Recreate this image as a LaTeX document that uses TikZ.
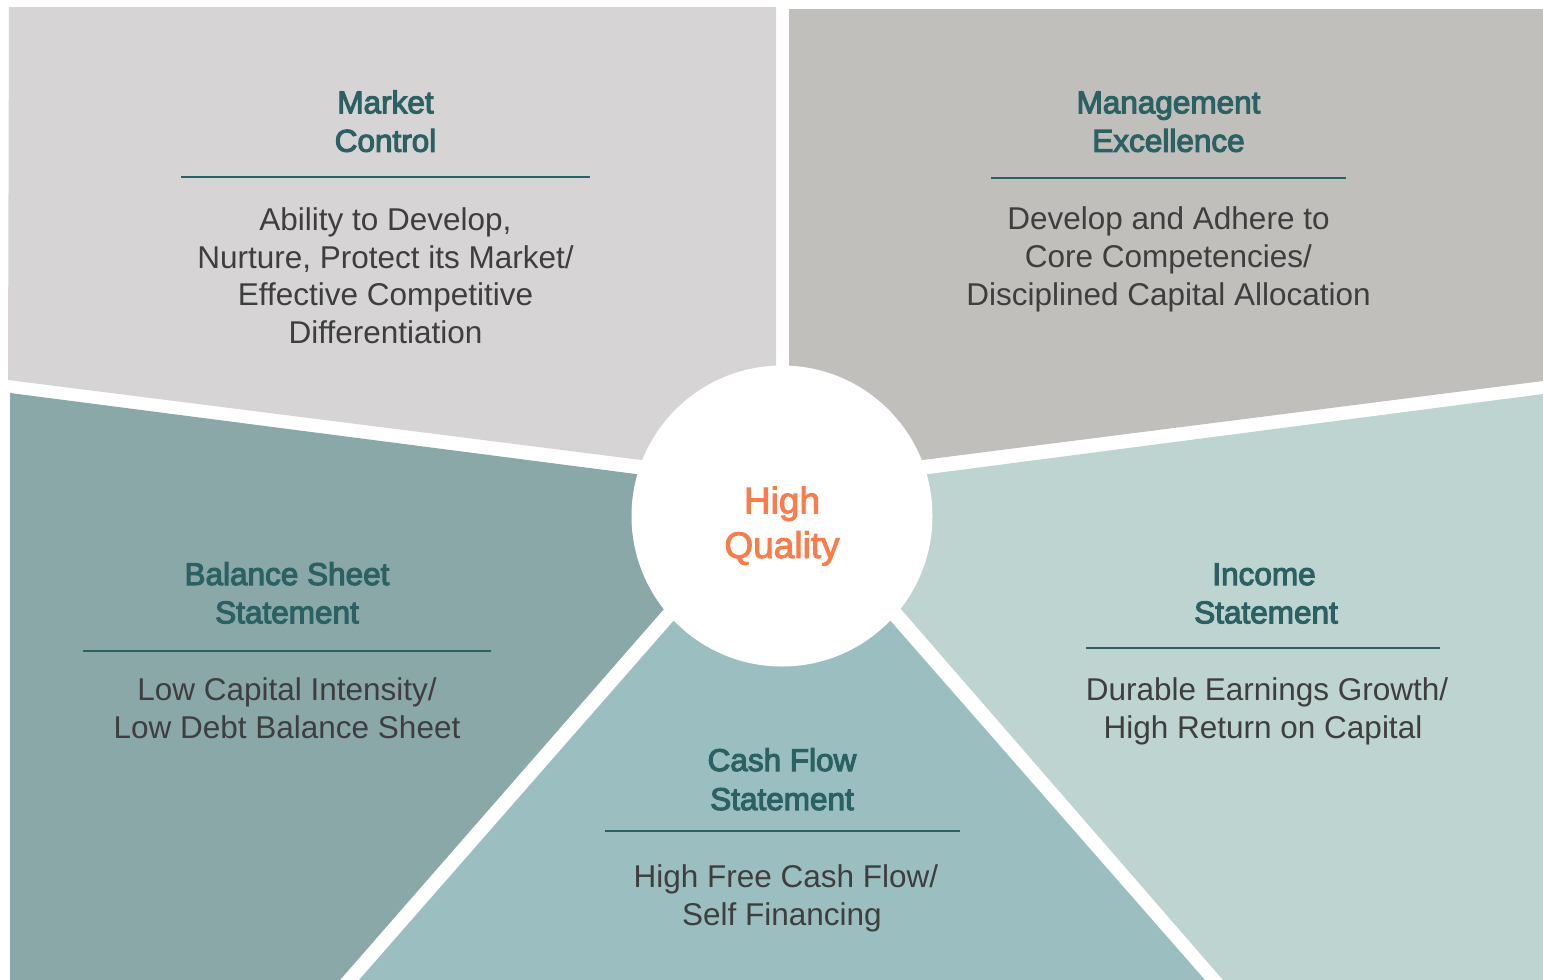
\documentclass[tikz,border=0pt]{standalone}
\usepackage{fontspec}
\setmainfont{Liberation Sans}
\newfontfamily\ttlfont[FakeBold=3.5]{Liberation Sans}
\newfontfamily\hqfont[FakeBold=2.5]{Liberation Sans}
\definecolor{cTL}{HTML}{D6D4D5}
\definecolor{cTR}{HTML}{C0BFBC}
\definecolor{cLF}{HTML}{8AA8A8}
\definecolor{cBT}{HTML}{9BBFC0}
\definecolor{cRT}{HTML}{BED4D1}
\definecolor{cTeal}{HTML}{2B6163}
\definecolor{cBody}{HTML}{3E3E3E}
\definecolor{cOrange}{HTML}{F97C4A}
\tikzset{
  titletext/.style={anchor=base,inner sep=0pt,text=cTeal,font=\ttlfont\fontsize{31.5}{36}\selectfont},
  bodytext/.style={anchor=base,inner sep=0pt,text=cBody,font=\fontsize{31.5}{38}\selectfont},
  hqtext/.style={anchor=base,inner sep=0pt,text=cOrange,font=\hqfont\fontsize{37}{45}\selectfont},
  titlerule/.style={draw=cTeal,line width=2pt},
}
\begin{document}
\begin{tikzpicture}[x=1pt,y=-1pt]
\useasboundingbox (0,0) rectangle (1543,980);
% regions
\fill[cTL] (9,7) -- (776,7) -- (776,477) -- (8,380) -- cycle;
\fill[cTR] (789,9) -- (1543,9) -- (1543,381) -- (789,477) -- cycle;
\fill[cLF] (10,393) -- (767,491) -- (340,980) -- (10,980) -- cycle;
\fill[cBT] (359,980) -- (782,497) -- (1205,980) -- cycle;
\fill[cRT] (1543,394) -- (798.5,491) -- (1223,980) -- (1543,980) -- cycle;
% centre circle
\node[circle,fill=white,minimum size=301pt,inner sep=0pt] (hq) at (782,516) {};
\node[hqtext] (hq1) at (782,513.3) {High};
\node[hqtext] (hq2) at (782,558) {Quality};
% Market Control
\node[titletext] (mc1) at (385.5,113.3) {Market};
\node[titletext] (mc2) at (385.5,151.7) {Control};
\coordinate (mcL) at (181,177);
\coordinate (mcR) at (590,177);
\draw[titlerule] (mcL) -- (mcR);
\node[bodytext] (mcb1) at (385.5,230) {Ability to Develop,};
\node[bodytext] (mcb2) at (385.5,268) {Nurture, Protect its Market/};
\node[bodytext] (mcb3) at (385.5,305.5) {Effective Competitive};
\node[bodytext] (mcb4) at (385.5,343) {Differentiation};
% Management Excellence
\node[titletext] (me1) at (1168.5,113.3) {Management};
\node[titletext] (me2) at (1168.5,151.7) {Excellence};
\coordinate (meL) at (991,178);
\coordinate (meR) at (1346,178);
\draw[titlerule] (meL) -- (meR);
\node[bodytext] (meb1) at (1168.5,229) {Develop and Adhere to};
\node[bodytext] (meb2) at (1168.5,267) {Core Competencies/};
\node[bodytext] (meb3) at (1168.5,305) {Disciplined Capital Allocation};
% Balance Sheet Statement
\node[titletext] (bs1) at (287,585) {Balance Sheet};
\node[titletext] (bs2) at (287,623.3) {Statement};
\coordinate (bsL) at (83,651);
\coordinate (bsR) at (491,651);
\draw[titlerule] (bsL) -- (bsR);
\node[bodytext] (bsb1) at (287,700) {Low Capital Intensity/};
\node[bodytext] (bsb2) at (287,738.3) {Low Debt Balance Sheet};
% Income Statement
\node[titletext] (is1) at (1264,585) {Income};
\node[titletext] (is2) at (1266,623.3) {Statement};
\coordinate (isL) at (1086,648);
\coordinate (isR) at (1440,648);
\draw[titlerule] (isL) -- (isR);
\node[bodytext] (isb1) at (1267,700) {Durable Earnings Growth/};
\node[bodytext] (isb2) at (1263,738.3) {High Return on Capital};
% Cash Flow Statement
\node[titletext] (cf1) at (782,771) {Cash Flow};
\node[titletext] (cf2) at (782,810) {Statement};
\coordinate (cfL) at (605,831);
\coordinate (cfR) at (960,831);
\draw[titlerule] (cfL) -- (cfR);
\node[bodytext] (cfb1) at (786,887) {High Free Cash Flow/};
\node[bodytext] (cfb2) at (782,925) {Self Financing};
\end{tikzpicture}
\end{document}
